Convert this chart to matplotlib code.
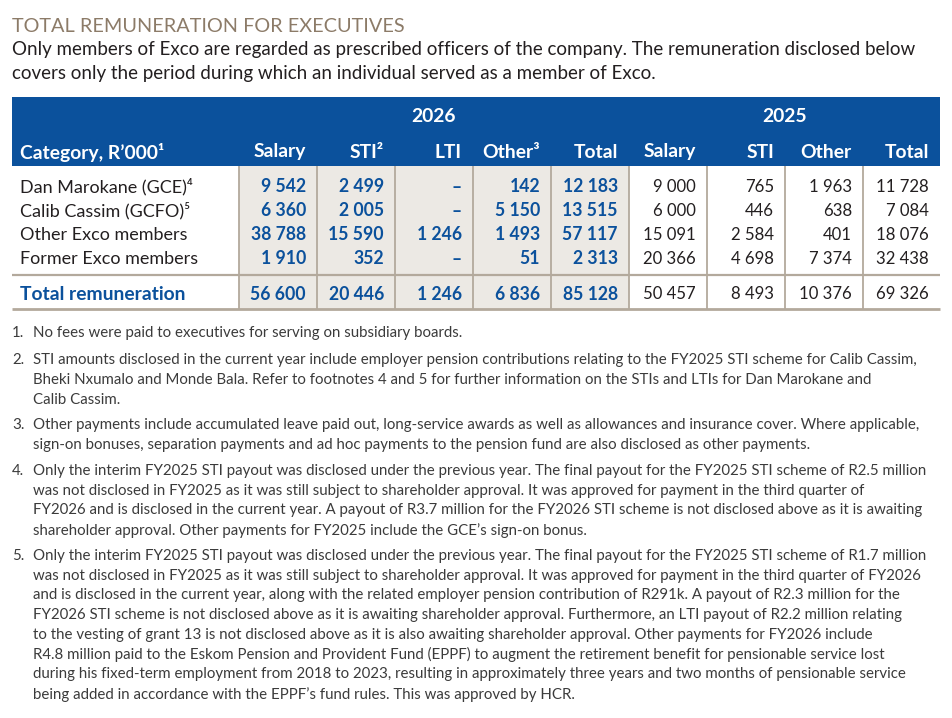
import matplotlib
matplotlib.use("Agg")
import matplotlib.pyplot as plt
from matplotlib.patches import Rectangle

# ---------------- data ----------------
title = "TOTAL REMUNERATION FOR EXECUTIVES"
subtitle_lines = [
    "Only members of Exco are regarded as prescribed officers of the company. The remuneration disclosed below",
    "covers only the period during which an individual served as a member of Exco.",
]
years = ["2026", "2025"]
columns_2026 = ["Salary", "STI²", "LTI", "Other³", "Total"]
columns_2025 = ["Salary", "STI", "Other", "Total"]
category_header = "Category, R’000¹"
categories = ["Dan Marokane (GCE)⁴", "Calib Cassim (GCFO)⁵",
              "Other Exco members", "Former Exco members"]
total_label = "Total remuneration"

salary_2026 = [9542, 6360, 38788, 1910]
sti_2026 = [2499, 2005, 15590, 352]
lti_2026 = [None, None, 1246, None]
other_2026 = [142, 5150, 1493, 51]
total_2026 = [12183, 13515, 57117, 2313]
salary_2025 = [9000, 6000, 15091, 20366]
sti_2025 = [765, 446, 2584, 4698]
other_2025 = [1963, 638, 401, 7374]
total_2025 = [11728, 7084, 18076, 32438]

footnotes = [
    ["No fees were paid to executives for serving on subsidiary boards."],
    ["STI amounts disclosed in the current year include employer pension contributions relating to the FY2025 STI scheme for Calib Cassim,",
     "Bheki Nxumalo and Monde Bala. Refer to footnotes 4 and 5 for further information on the STIs and LTIs for Dan Marokane and",
     "Calib Cassim."],
    ["Other payments include accumulated leave paid out, long-service awards as well as allowances and insurance cover. Where applicable,",
     "sign-on bonuses, separation payments and ad hoc payments to the pension fund are also disclosed as other payments."],
    ["Only the interim FY2025 STI payout was disclosed under the previous year. The final payout for the FY2025 STI scheme of R2.5 million",
     "was not disclosed in FY2025 as it was still subject to shareholder approval. It was approved for payment in the third quarter of",
     "FY2026 and is disclosed in the current year. A payout of R3.7 million for the FY2026 STI scheme is not disclosed above as it is awaiting",
     "shareholder approval. Other payments for FY2025 include the GCE’s sign-on bonus."],
    ["Only the interim FY2025 STI payout was disclosed under the previous year. The final payout for the FY2025 STI scheme of R1.7 million",
     "was not disclosed in FY2025 as it was still subject to shareholder approval. It was approved for payment in the third quarter of FY2026",
     "and is disclosed in the current year, along with the related employer pension contribution of R291k. A payout of R2.3 million for the",
     "FY2026 STI scheme is not disclosed above as it is awaiting shareholder approval. Furthermore, an LTI payout of R2.2 million relating",
     "to the vesting of grant 13 is not disclosed above as it is also awaiting shareholder approval. Other payments for FY2026 include",
     "R4.8 million paid to the Eskom Pension and Provident Fund (EPPF) to augment the retirement benefit for pensionable service lost",
     "during his fixed-term employment from 2018 to 2023, resulting in approximately three years and two months of pensionable service",
     "being added in accordance with the EPPF’s fund rules. This was approved by HCR."],
]

# ---------------- style ----------------
FAM = ["Lato", "DejaVu Sans"]
BLUE = "#0b519c"
TXT = "#231f20"
FOOT = "#3b3b3b"
TITLE_C = "#8c7b68"
GREY = "#ece9e4"
LINE = "#b3a99c"
DY = 2  # small vertical text offset

W, H = 953, 718
fig = plt.figure(figsize=(W / 100, H / 100), dpi=100)
ax = fig.add_axes([0, 0, 1, 1])
ax.set_xlim(0, W)
ax.set_ylim(H, 0)
ax.axis("off")
renderer = fig.canvas.get_renderer()


def fit(text, target, weight="normal"):
    t = ax.text(0, 0, text, fontsize=10, family=FAM, weight=weight)
    w = t.get_window_extent(renderer).width
    t.remove()
    return 10 * target / w


def fmt(v):
    if v is None:
        return "–"
    return f"{v:,}".replace(",", " ")


fs_title = fit(title, 390)
fs_sub = fit(subtitle_lines[0], 903)
fs_foot = fit(footnotes[1][0], 885)
fs_label = fit("Former Exco members", 178)
fs_head = fit(category_header, 144, "bold")
fs_bold = fit("20 446", 56, "bold")
fs_reg = fit("20 366", 53)

# title & subtitle
ax.text(12, 24 + DY, title, fontsize=fs_title, family=FAM, color=TITLE_C, va="center")
for i, line in enumerate(subtitle_lines):
    ax.text(12, 48 + DY + i * 24, line, fontsize=fs_sub, family=FAM, color=TXT, va="center")

# ---------------- table geometry ----------------
left, right = 12, 940
col_edges = [239, 317, 395, 473, 551, 629, 707, 785, 863, 940]
head_top, head_bot = 97, 166
row_y = [185, 209, 233, 257]
sep_y, total_y, bottom_y = 275, 292, 309
pad = 11

ax.add_patch(Rectangle((left, head_top), right - left, head_bot - head_top,
                       facecolor=BLUE, edgecolor="none"))
# grey shading for current year
ax.add_patch(Rectangle((col_edges[0], head_bot), col_edges[5] - col_edges[0],
                       bottom_y - head_bot, facecolor=GREY, edgecolor="none"))

# year labels
ax.text((col_edges[0] + col_edges[5]) / 2, 115 + DY, years[0], fontsize=fs_head, family=FAM,
        weight="bold", color="white", ha="center", va="center")
ax.text((col_edges[5] + col_edges[9]) / 2, 115 + DY, years[1], fontsize=fs_head, family=FAM,
        weight="bold", color="white", ha="center", va="center")

# column headers
ax.text(20, 150 + DY, category_header, fontsize=fs_head, family=FAM, weight="bold",
        color="white", va="center")
for j, c in enumerate(columns_2026 + columns_2025):
    ax.text(col_edges[j + 1] - pad, 150 + DY, c, fontsize=fs_head, family=FAM, weight="bold",
            color="white", va="center", ha="right")

# vertical lines
for x in col_edges[:-1]:
    ax.plot([x, x], [head_bot, bottom_y], color=LINE, lw=1.3, solid_capstyle="butt")
# horizontal lines
ax.plot([left, right], [sep_y, sep_y], color=LINE, lw=1.6, solid_capstyle="butt")
ax.plot([left, right], [bottom_y, bottom_y], color=LINE, lw=2.0, solid_capstyle="butt")

cols26 = [salary_2026, sti_2026, lti_2026, other_2026, total_2026]
cols25 = [salary_2025, sti_2025, other_2025, total_2025]

for i, cat in enumerate(categories):
    y = row_y[i] + DY
    ax.text(20, y, cat, fontsize=fs_label, family=FAM, color=TXT, va="center")
    for j, col in enumerate(cols26):
        ax.text(col_edges[j + 1] - pad, y, fmt(col[i]), fontsize=fs_bold, family=FAM,
                weight="bold", color=BLUE, va="center", ha="right")
    for j, col in enumerate(cols25):
        ax.text(col_edges[j + 6] - pad, y, fmt(col[i]), fontsize=fs_reg, family=FAM,
                color=TXT, va="center", ha="right")

# totals row
ty = total_y + DY
ax.text(20, ty, total_label, fontsize=fs_head, family=FAM, weight="bold",
        color=BLUE, va="center")
for j, col in enumerate(cols26):
    tot = sum(v for v in col if v is not None)
    ax.text(col_edges[j + 1] - pad, ty, fmt(tot), fontsize=fs_bold, family=FAM,
            weight="bold", color=BLUE, va="center", ha="right")
for j, col in enumerate(cols25):
    ax.text(col_edges[j + 6] - pad, ty, fmt(sum(col)), fontsize=fs_reg, family=FAM,
            color=TXT, va="center", ha="right")

# ---------------- footnotes ----------------
y = 331 + DY
for k, note in enumerate(footnotes):
    ax.text(12, y, f"{k + 1}.", fontsize=fs_foot, family=FAM, color=FOOT, va="center")
    for li, line in enumerate(note):
        ax.text(33, y + li * 19.75, line, fontsize=fs_foot, family=FAM, color=FOOT, va="center")
    y += (len(note) - 1) * 19.75 + (27 if k == 0 else 25.8)

fig.savefig("out.png", dpi=100, facecolor="white")
